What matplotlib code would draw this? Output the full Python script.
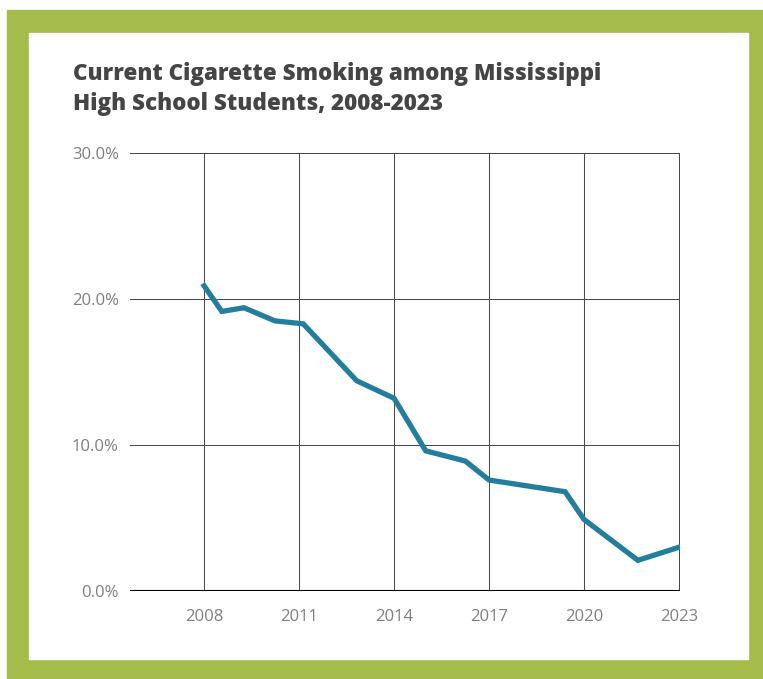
import matplotlib.pyplot as plt
from matplotlib.patches import Rectangle

# data (x positions in years as they sit on the axis)
years = [2008.0, 2008.56, 2009.26, 2010.24, 2011.13, 2012.82, 2014.0,
         2015.0, 2016.25, 2017.0, 2019.4, 2020.0, 2021.7, 2023.0]
smoking = [20.9, 19.15, 19.4, 18.5, 18.3, 14.4, 13.2,
           9.6, 8.9, 7.6, 6.8, 4.9, 2.1, 3.0]
xticks = [2008, 2011, 2014, 2017, 2020, 2023]
yticks = [0, 10, 20, 30]
ylabels = ['0.0%', '10.0%', '20.0%', '30.0%']

green = '#a5bb4a'
grid_col = '#4a4a4a'
label_col = '#7f7f7f'
line_col = '#237e9e'

plt.rcParams['font.family'] = ['Open Sans', 'DejaVu Sans']

W, H = 763, 679
fig = plt.figure(figsize=(W / 100, H / 100), dpi=100)

# green frame with white inside
fig.patches.append(Rectangle((7 / W, 0), 1 - 7 / W, 1 - 10 / H,
                             transform=fig.transFigure, color=green, zorder=-2))
fig.patches.append(Rectangle((29 / W, 20 / H), (748 - 29) / W, (659 - 33) / H,
                             transform=fig.transFigure, color='white', zorder=-1))

fig.text(73 / W, 1 - 62 / H,
         'Current Cigarette Smoking among Mississippi\nHigh School Students, 2008-2023',
         ha='left', va='top', fontsize=16.1, fontweight='heavy', color='#454545',
         linespacing=1.35)

ax = fig.add_axes([130 / W, 88 / H, 550 / W, 438 / H])
ax.set_facecolor('none')
ax.set_xlim(2005.66, 2023.03)
ax.set_ylim(0, 30)

for y in yticks[1:]:
    ax.axhline(y, color=grid_col, lw=0.75, zorder=1)
for x in xticks:
    ax.axvline(x, color=grid_col, lw=0.75, zorder=1)
ax.axhline(0, color='black', lw=1.5, zorder=2)

ax.plot(years, smoking, color=line_col, lw=3.8, solid_joinstyle='miter', zorder=3)

ax.set_xticks(xticks)
ax.set_xticklabels([str(x) for x in xticks])
ax.set_yticks(yticks)
ax.set_yticklabels(ylabels)
ax.tick_params(length=0, labelsize=12, labelcolor=label_col)
ax.tick_params(axis='x', pad=13)
ax.tick_params(axis='y', pad=8)
for s in ax.spines.values():
    s.set_visible(False)

fig.savefig('out.png', dpi=100)
